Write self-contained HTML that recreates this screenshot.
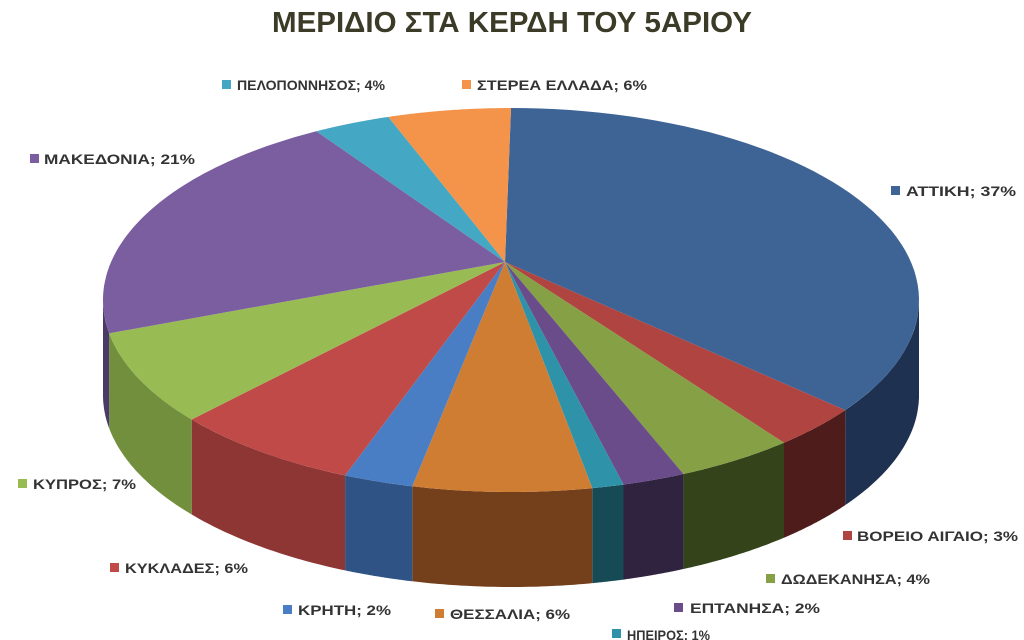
<!DOCTYPE html>
<html><head><meta charset="utf-8"><style>
html,body{margin:0;padding:0;background:#fff;width:1024px;height:640px;overflow:hidden}
svg{display:block}
text{font-family:"Liberation Sans Narrow","Liberation Sans","DejaVu Sans",sans-serif;font-weight:bold}
</style></head><body>
<svg id="s" width="1024" height="640" viewBox="0 0 1024 640" xmlns="http://www.w3.org/2000/svg">
<text x="512" y="32" text-anchor="middle" font-size="29" fill="#3b3b28" textLength="480" lengthAdjust="spacingAndGlyphs" style="font-family:'Liberation Sans',sans-serif">ΜΕΡΙΔΙΟ ΣΤΑ ΚΕΡΔΗ ΤΟΥ 5ΑΡΙΟΥ</text>
<g id="pie"></g>
<g font-size="14" fill="#333">
<rect x="222" y="80" width="9" height="9" fill="#44a8c4"/><text x="237" y="90" textLength="148" lengthAdjust="spacingAndGlyphs">ΠΕΛΟΠΟΝΝΗΣΟΣ; 4%</text>
<rect x="462" y="80" width="9" height="9" fill="#f3944a"/><text x="477" y="90" textLength="170" lengthAdjust="spacingAndGlyphs">ΣΤΕΡΕΑ ΕΛΛΑΔΑ; 6%</text>
<rect x="30" y="154" width="9" height="9" fill="#7a5ea0"/><text x="44" y="164" textLength="151" lengthAdjust="spacingAndGlyphs">ΜΑΚΕΔΟΝΙΑ; 21%</text>
<rect x="891" y="186" width="9" height="9" fill="#3e6496"/><text x="906" y="196" textLength="110" lengthAdjust="spacingAndGlyphs">ΑΤΤΙΚΗ; 37%</text>
<rect x="18" y="479" width="9" height="9" fill="#98bb54"/><text x="33" y="489" textLength="103" lengthAdjust="spacingAndGlyphs">ΚΥΠΡΟΣ; 7%</text>
<rect x="843" y="531" width="9" height="9" fill="#b04440"/><text x="857" y="541" textLength="161" lengthAdjust="spacingAndGlyphs">ΒΟΡΕΙΟ ΑΙΓΑΙΟ; 3%</text>
<rect x="110" y="563" width="9" height="9" fill="#c04a48"/><text x="125" y="573" textLength="123" lengthAdjust="spacingAndGlyphs">ΚΥΚΛΑΔΕΣ; 6%</text>
<rect x="766" y="574" width="9" height="9" fill="#86a046"/><text x="781" y="584" textLength="149" lengthAdjust="spacingAndGlyphs">ΔΩΔΕΚΑΝΗΣΑ; 4%</text>
<rect x="283" y="605" width="9" height="9" fill="#4a7ec4"/><text x="298" y="615" textLength="93" lengthAdjust="spacingAndGlyphs">ΚΡΗΤΗ; 2%</text>
<rect x="435" y="609" width="9" height="9" fill="#d07d34"/><text x="450" y="619" textLength="120" lengthAdjust="spacingAndGlyphs">ΘΕΣΣΑΛΙΑ; 6%</text>
<rect x="674" y="603" width="9" height="9" fill="#6b4c8a"/><text x="690" y="613" textLength="130" lengthAdjust="spacingAndGlyphs">ΕΠΤΑΝΗΣΑ; 2%</text>
<rect x="612" y="629" width="9" height="9" fill="#2e93a8"/><text x="627" y="640" textLength="83" lengthAdjust="spacingAndGlyphs">ΗΠΕΙΡΟΣ; 1%</text>
</g>
</svg>
<script>
(function(){
var cx=511,cy=300,rx=408,ry=192,D=95,ax=505,ay=262;
var sl=[[-90,35,"#3e6496","#1f3150"],[35,48,"#b04440","#4e1c1a"],[48,65,"#86a046","#34431a"],[65,74,"#6b4c8a","#2f2340"],[74,78.5,"#2e93a8","#164a55"],[78.5,104,"#d07d34","#74401b"],[104,114,"#4a7ec4","#2f5385"],[114,141.5,"#c04a48","#8e3634"],[141.5,170,"#98bb54","#718f3c"],[170,241.5,"#7a5ea0","#4a3a66"],[241.5,252.5,"#44a8c4","#2a7080"],[252.5,270,"#f3944a","#a05e28"]];
function P(t,d){var r=t*Math.PI/180;return [cx+rx*Math.cos(r),cy+ry*Math.sin(r)+(d||0)];}
var g=document.getElementById("pie"),h="";
sl.forEach(function(s){var a=Math.max(s[0],0),b=Math.min(s[1],180);if(b<=a)return;var pts=[],i,t;
for(i=0;i<=40;i++){t=a+(b-a)*i/40;pts.push(P(t,0));}
for(i=40;i>=0;i--){t=a+(b-a)*i/40;pts.push(P(t,D));}
h+='<polygon fill="'+s[3]+'" points="'+pts.map(function(p){return p[0].toFixed(1)+","+p[1].toFixed(1)}).join(" ")+'"/>';});
sl.forEach(function(s){var pts=[[ax,ay]],i,t;for(i=0;i<=60;i++){t=s[0]+(s[1]-s[0])*i/60;pts.push(P(t,0));}
h+='<polygon fill="'+s[2]+'" points="'+pts.map(function(p){return p[0].toFixed(1)+","+p[1].toFixed(1)}).join(" ")+'"/>';});
g.innerHTML=h;
})();
</script>
</body></html>
